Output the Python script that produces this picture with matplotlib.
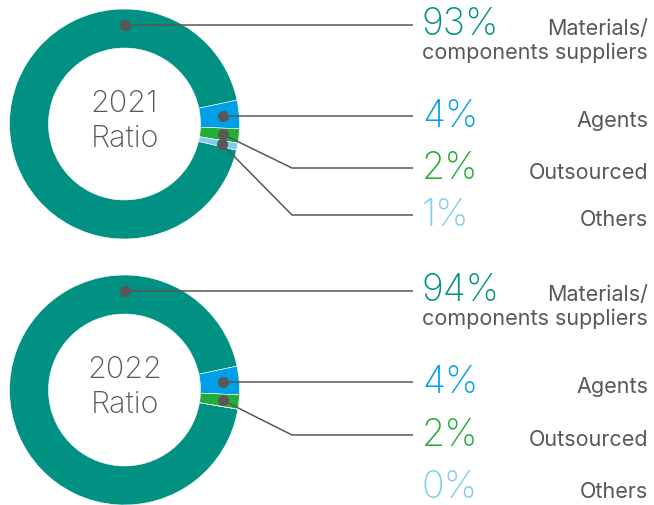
import numpy as np
import matplotlib
matplotlib.use("Agg")
import matplotlib.pyplot as plt

# Procurement share by supplier type
categories = ["Materials/\ncomponents suppliers", "Agents", "Outsourced", "Others"]
years = ["2021", "2022"]
share_2021 = [93, 4, 2, 1]
share_2022 = [94, 4, 2, 0]

colors = ["#009183", "#00A0E9", "#22AC38", "#82CDEB"]
gray = "#595757"

W, H = 654, 505
fig = plt.figure(figsize=(W / 100, H / 100), dpi=100)
ax = fig.add_axes([0, 0, 1, 1])

plt.rcParams["font.family"] = ["Inter", "DejaVu Sans"]


def Y(py):
    return H - py


panels = [
    dict(year=years[0], values=share_2021, center=(124.5, 124), rows=[24, 116, 168, 215]),
    dict(year=years[1], values=share_2022, center=(124.5, 390), rows=[290, 382, 435, 487]),
]

r_out, r_in, r_dot = 115, 76, 99
x_elbow, x_line_end = 292, 413
x_pct, x_cat = 422, 648

for p in panels:
    cx, cy = p["center"]
    vals = p["values"]
    wedges, _ = ax.pie(
        vals, colors=colors, center=(cx, Y(cy)), radius=r_out,
        startangle=12 + 360 * vals[0] / sum(vals), counterclock=False,
        wedgeprops=dict(width=r_out - r_in, edgecolor="white", linewidth=0.4),
    )
    ax.text(cx, Y(cy - 3), f"{p['year']}\nRatio", ha="center", va="center",
            fontsize=22, color=gray, fontweight="light", linespacing=1.3)

    for i, (w, v) in enumerate(zip(wedges, vals)):
        row = p["rows"][i]
        base = row + 11
        ax.text(x_pct, Y(base), f"{v}%", ha="left", va="baseline",
                fontsize=27, color=colors[i], fontweight="light")
        for k, line in enumerate(categories[i].split("\n")):
            ax.text(x_cat, Y(base + 24 * k), line, ha="right", va="baseline",
                    fontsize=15.5, color=gray)
        if v == 0:
            continue
        # dominant slice is marked at the top of the ring
        ang = 90.0 if i == 0 else (w.theta1 + w.theta2) / 2
        dx = cx + r_dot * np.cos(np.radians(ang))
        dy = Y(cy) + r_dot * np.sin(np.radians(ang))
        if abs(Y(dy) - row) > 4:
            xs, ys = [dx, x_elbow, x_line_end], [dy, Y(row), Y(row)]
        else:
            xs, ys = [dx, x_line_end], [dy, dy]
        ax.plot(xs, ys, color=gray, lw=1.1, solid_capstyle="butt", zorder=3)
        ax.plot([dx], [dy], "o", color=gray, ms=7, zorder=4)

ax.set_xlim(0, W)
ax.set_ylim(0, H)
ax.set_aspect("equal")
ax.axis("off")

fig.savefig("out.png", dpi=100)
